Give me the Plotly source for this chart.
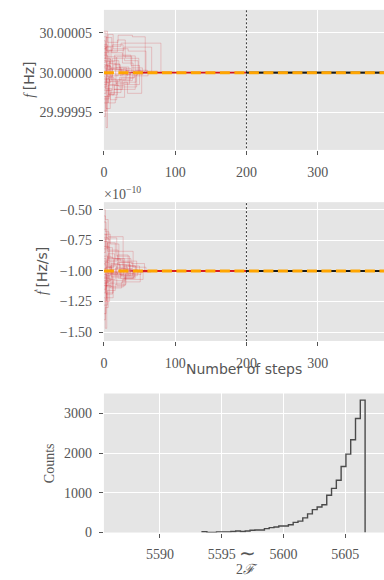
import plotly.graph_objects as go

# ---------------- data ----------------
F0_HZ = 30.0
FDOT0_E10 = -1.0
BURN_IN_STEPS = 200
TOTAL_STEPS = 400

# f walkers: [step, offset from F0 in micro-Hz]
f_walker_offsets_uHz = [
    [[0, 52], [5, 38], [20, 47], [40, 45], [58, 2], [75, 0.2]],
    [[0, 18], [4, 33], [24, 37], [80, 0.4]],
    [[0, -8], [7, 28], [28, 32], [67, 0.1]],
    [[0, 6], [3, -69], [5, -28], [14, -21], [44, -4], [62, 0.2]],
    [[0, -22], [9, -34], [18, -12], [33, -26], [53, 0.3]],
    [[0, 40], [2, 14], [15, 22], [38, 9], [50, -0.4]],
    [[0, -38], [6, -16], [21, -18], [46, -2], [55, 0.1]],
    [[0, 30], [3, 44], [11, 25], [26, 12], [41, -0.3]],
    [[0, -55], [2, -30], [8, -8], [17, -14], [36, 0.5]],
    [[0, 10], [5, -5], [12, 18], [29, 15], [48, 0.2]],
    [[0, -15], [4, 8], [10, -9], [31, 3], [52, -0.2]],
    [[0, 25], [6, 48], [13, 30], [34, 27], [59, 1], [64, 0]],
    [[0, -30], [3, -45], [9, -25], [24, -7], [42, 0.3]],
    [[0, 2], [7, 12], [16, -3], [27, 5], [39, -0.1]],
    [[0, 45], [4, 20], [17, 6], [32, -3], [47, 0.2]],
    [[0, -5], [2, -20], [11, -28], [19, -9], [37, 0.1]],
    [[0, 15], [8, -11], [22, -6], [43, 2], [57, -0.2]],
    [[0, -48], [4, -22], [12, 4], [25, -2], [38, 0.3]],
    [[0, 35], [5, 26], [19, 41], [30, 18], [49, 0.5]],
    [[0, -12], [6, -27], [15, -16], [28, -12], [45, -1], [60, 0.1]],
    [[0, 8], [3, 32], [10, 15], [21, 7], [35, -0.2]],
    [[0, -33], [7, -6], [14, -21], [26, -10], [40, 0.4]],
    [[0, 22], [5, 4], [13, 10], [23, -4], [33, 0.1]],
    [[0, -18], [4, 17], [9, 5], [18, 20], [39, 6], [54, -0.3]],
    [[0, 0], [6, -38], [16, -31], [29, -15], [50, 0.2]],
    [[0, 50], [3, 28], [12, 35], [27, 21], [44, 3], [61, 0]],
    [[0, -3], [2, 9], [9, -4], [20, 3], [34, 0.1]],
    [[0, 13], [4, -12], [10, 6], [24, -2], [37, 0.2]],
    [[0, -26], [3, -8], [8, -15], [17, 4], [31, -0.1]],
    [[0, 33], [2, 18], [9, 11], [22, 2], [43, 0]],
]

# fdot walkers: [step, fdot in units of 1e-10 Hz/s]
fdot_walkers_e10 = [
    [[0, -0.50], [2, -0.58], [6, -0.72], [27, -0.96], [44, -1.00]],
    [[0, -1.22], [2, -1.47], [4, -1.18], [13, -1.04], [37, -1.00]],
    [[0, -0.76], [5, -0.84], [41, -0.97], [59, -1.00]],
    [[0, -0.95], [3, -1.22], [13, -1.08], [30, -1.03], [52, -1.00]],
    [[0, -0.66], [4, -0.73], [18, -0.88], [36, -0.99], [48, -1.00]],
    [[0, -1.10], [5, -0.90], [23, -0.92], [46, -1.01], [62, -1.00]],
    [[0, -1.35], [3, -1.12], [10, -1.13], [28, -1.06], [44, -1.00]],
    [[0, -0.85], [2, -0.70], [9, -0.78], [21, -0.93], [40, -1.00]],
    [[0, -1.05], [4, -1.25], [8, -1.10], [26, -1.07], [55, -1.00]],
    [[0, -0.92], [6, -0.86], [15, -0.95], [32, -1.02], [42, -1.00]],
    [[0, -1.15], [3, -0.97], [11, -1.05], [24, -0.98], [39, -1.00]],
    [[0, -0.80], [7, -0.92], [19, -0.87], [34, -0.96], [50, -1.00]],
    [[0, -1.28], [5, -1.16], [16, -1.11], [31, -1.04], [47, -1.00]],
    [[0, -0.60], [3, -0.81], [12, -0.90], [29, -0.99], [38, -1.00]],
    [[0, -1.00], [4, -1.08], [10, -0.94], [22, -1.03], [35, -1.00]],
    [[0, -0.73], [6, -0.97], [14, -0.91], [27, -1.05], [43, -1.00]],
    [[0, -1.18], [2, -1.06], [9, -1.14], [25, -1.09], [51, -1.01], [66, -1.00]],
    [[0, -0.88], [5, -1.02], [17, -0.97], [33, -1.00]],
    [[0, -1.40], [2, -1.30], [6, -1.02], [20, -1.06], [41, -1.00]],
    [[0, -0.55], [2, -0.68], [7, -0.83], [20, -0.95], [37, -1.00]],
    [[0, -0.98], [4, -0.89], [13, -1.03], [28, -0.96], [45, -1.00]],
    [[0, -1.08], [3, -1.19], [12, -1.00], [24, -1.04], [40, -1.00]],
    [[0, -0.82], [5, -0.77], [16, -0.90], [38, -0.94], [57, -1.00]],
    [[0, -1.12], [6, -1.01], [18, -1.12], [30, -1.02], [49, -1.00]],
    [[0, -0.94], [2, -0.74], [8, -0.99], [19, -0.93], [36, -1.00]],
    [[0, -1.03], [4, -1.13], [11, -0.95], [23, -1.06], [42, -1.00]],
    [[0, -0.90], [3, -1.04], [9, -0.96], [18, -1.02], [33, -1.00]],
    [[0, -1.06], [2, -0.93], [7, -1.07], [16, -0.98], [31, -1.00]],
    [[0, -0.70], [4, -0.88], [10, -1.01], [21, -0.99], [35, -1.00]],
    [[0, -1.25], [3, -1.09], [8, -1.03], [19, -1.01], [38, -1.00]],
]

# histogram of 2F (50 bins)
twoF_bin_start = 5587.2
twoF_bin_width = 0.388
twoF_counts = [
    0, 0, 0, 0, 0, 0, 0, 0, 0, 0,
    0, 0, 0, 0, 0, 0, 20, 0, 0, 16,
    16, 16, 25, 41, 25, 41, 58, 66, 66, 99,
    123, 140, 165, 165, 198, 255, 288, 370, 469, 576,
    642, 700, 938, 1111, 1317, 1662, 1975, 2337, 2872, 3333,
]

f_tickvals = [29.99995, 30.0, 30.00005]
f_ticktext = ["29.99995", "30.00000", "30.00005"]
fdot_tickvals = [-1.5, -1.25, -1.0, -0.75, -0.5]
fdot_ticktext = ["\u22121.50", "\u22121.25", "\u22121.00", "\u22120.75", "\u22120.50"]
step_tickvals = [0, 100, 200, 300]
twoF_tickvals = [5590, 5595, 5600, 5605]
count_tickvals = [0, 1000, 2000, 3000]

# ---------------- styling ----------------
W, H = 384, 580
SERIF = "Liberation Serif"
SANS = "DejaVu Sans"
GRAY = "#555555"
BG = "#E5E5E5"
RED = "rgba(215,25,35,0.2)"
BLACK = "rgba(30,30,30,0.35)"
ORANGE = "#FFA500"

def px_x(p):
    return p / W

def px_y(p):
    return 1 - p / H

xdom = [px_x(101.7), 1.0]
dom_top = [px_y(152), px_y(10)]
dom_mid = [px_y(345.7), px_y(205)]
dom_bot = [px_y(540), px_y(399)]

fig = go.Figure()

def add_walkers(walkers, to_y, xa, ya):
    for w in walkers:
        xs = [p[0] for p in w] + [BURN_IN_STEPS]
        ys = [to_y(p[1]) for p in w] + [to_y(w[-1][1])]
        fig.add_trace(go.Scatter(x=xs, y=ys, mode="lines", line=dict(color=RED, width=1, shape="hv"),
                                 xaxis=xa, yaxis=ya, showlegend=False, hoverinfo="skip"))
    for w in walkers:
        v = to_y(w[-1][1])
        fig.add_trace(go.Scatter(x=[BURN_IN_STEPS, TOTAL_STEPS], y=[v, v], mode="lines",
                                 line=dict(color=BLACK, width=1), xaxis=xa, yaxis=ya,
                                 showlegend=False, hoverinfo="skip"))

add_walkers(f_walker_offsets_uHz, lambda d: F0_HZ + d * 1e-6, "x", "y")
add_walkers(fdot_walkers_e10, lambda d: d, "x2", "y2")

# truth lines
for xa, ya, v in (("x", "y", F0_HZ), ("x2", "y2", FDOT0_E10)):
    fig.add_trace(go.Scatter(x=[0, TOTAL_STEPS], y=[v, v], mode="lines",
                             line=dict(color=ORANGE, width=3, dash="10px,4.5px"),
                             xaxis=xa, yaxis=ya, showlegend=False, hoverinfo="skip"))

# burn-in markers
fig.add_trace(go.Scatter(x=[BURN_IN_STEPS, BURN_IN_STEPS], y=[29.9999, 30.0001], mode="lines",
                         line=dict(color="black", width=0.8, dash="2px,2px"),
                         xaxis="x", yaxis="y", showlegend=False, hoverinfo="skip"))
fig.add_trace(go.Scatter(x=[BURN_IN_STEPS, BURN_IN_STEPS], y=[-2, 0], mode="lines",
                         line=dict(color="black", width=0.8, dash="2px,2px"),
                         xaxis="x2", yaxis="y2", showlegend=False, hoverinfo="skip"))

# histogram step outline (starting at first non-empty bin)
n = len(twoF_counts)
first = next(i for i, c in enumerate(twoF_counts) if c > 0)
edges = [twoF_bin_start + i * twoF_bin_width for i in range(n + 1)]
hx = [edges[first]] + edges[first:n] + [edges[n], edges[n]]
hy = [0] + twoF_counts[first:] + [twoF_counts[-1], 0]
fig.add_trace(go.Scatter(x=hx, y=hy, mode="lines", line=dict(color="#4a4a4a", width=1.4, shape="hv"),
                         xaxis="x3", yaxis="y3", showlegend=False, hoverinfo="skip"))

tickfont = dict(family=SERIF, size=14, color=GRAY)
common = dict(showgrid=True, gridcolor="white", gridwidth=1, zeroline=False, showline=False,
              ticks="outside", ticklen=4, tickcolor=GRAY, tickwidth=1, tickfont=tickfont)
xcommon = dict(ticklabelstandoff=5, **common)
ycommon = dict(ticklabelstandoff=4, **common)

fig.update_layout(
    width=W, height=H, margin=dict(l=0, r=0, t=0, b=0),
    paper_bgcolor="white", plot_bgcolor=BG,
    xaxis=dict(domain=xdom, anchor="y", range=[0, 393], tickvals=step_tickvals, **xcommon),
    yaxis=dict(domain=dom_top, anchor="x", range=[29.999903, 30.0000788],
               tickvals=f_tickvals, ticktext=f_ticktext, **ycommon),
    xaxis2=dict(domain=xdom, anchor="y2", range=[0, 393], tickvals=step_tickvals, **xcommon),
    yaxis2=dict(domain=dom_mid, anchor="x2", range=[-1.573, -0.438],
                tickvals=fdot_tickvals, ticktext=fdot_ticktext, **ycommon),
    xaxis3=dict(domain=xdom, anchor="y3", range=[5585.46, 5608.13], tickvals=twoF_tickvals, **xcommon),
    yaxis3=dict(domain=dom_bot, anchor="x3", range=[0, 3500], tickvals=count_tickvals, **ycommon),
    showlegend=False,
)

ann = []
ann.append(dict(text="<i>f</i> <span style=\"font-family:DejaVu Sans\">[Hz]</span>", x=px_x(26), y=px_y(81),
                textangle=-90, font=dict(family=SERIF, size=14, color=GRAY)))
ann.append(dict(text="<i>\u1e1f</i> <span style=\"font-family:DejaVu Sans\">[Hz/s]</span>", x=px_x(40), y=px_y(275),
                textangle=-90, font=dict(family=SERIF, size=14, color=GRAY)))
ann.append(dict(text="Counts", x=px_x(47), y=px_y(470), textangle=-90,
                font=dict(family=SERIF, size=14, color=GRAY)))
ann.append(dict(text="\u00d710<sup>\u221210</sup>", x=px_x(100), y=px_y(196), xanchor="left",
                font=dict(family=SERIF, size=14, color=GRAY)))
ann.append(dict(text="Number of steps", x=px_x(243), y=px_y(374),
                font=dict(family=SANS, size=14, color=GRAY)))
ann.append(dict(text="2<i>\u2131</i>", x=px_x(246), y=px_y(577),
                font=dict(family=SERIF, size=14, color=GRAY)))
ann.append(dict(text="\u223c", x=px_x(246), y=px_y(561),
                font=dict(family=SERIF, size=20, color=GRAY)))
for a in ann:
    a.update(xref="paper", yref="paper", showarrow=False)
    a.setdefault("xanchor", "center")
    a.setdefault("yanchor", "middle")
fig.update_layout(annotations=ann)

fig.write_html("out.html")
